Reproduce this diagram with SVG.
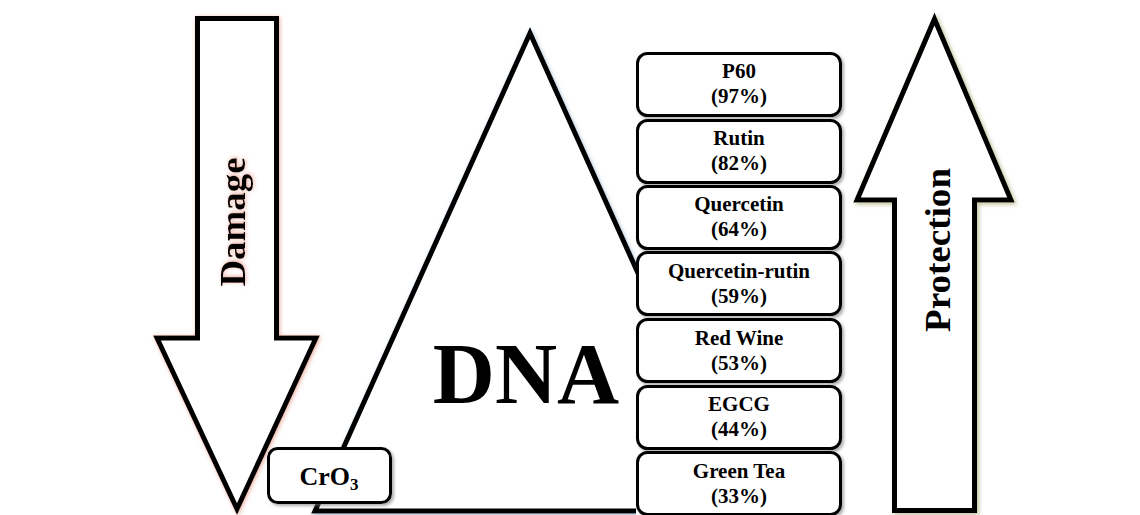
<svg xmlns="http://www.w3.org/2000/svg" width="1140" height="515" viewBox="0 0 1140 515">
  <defs>
    <filter id="glowRed" x="-20%" y="-20%" width="140%" height="140%">
      <feDropShadow dx="1" dy="1" stdDeviation="2" flood-color="#e08a78" flood-opacity="0.7"/>
    </filter>
    <filter id="glowGreen" x="-20%" y="-20%" width="140%" height="140%">
      <feDropShadow dx="2" dy="2" stdDeviation="2" flood-color="#9a9a60" flood-opacity="0.6"/>
    </filter>
    <filter id="glowBlue" x="-20%" y="-20%" width="140%" height="140%">
      <feDropShadow dx="1" dy="2" stdDeviation="2" flood-color="#6e8fb0" flood-opacity="0.6"/>
    </filter>
    <filter id="shadowGray" x="-20%" y="-20%" width="140%" height="140%">
      <feDropShadow dx="2" dy="2" stdDeviation="1.5" flood-color="#777" flood-opacity="0.6"/>
    </filter>
  </defs>
  <style>
    .arrow { fill: #fff; stroke: #000; stroke-width: 5; stroke-linejoin: miter; }
    .tri { fill: #fff; stroke: #000; stroke-width: 5; stroke-linejoin: miter; }
    .box { fill: #fff; stroke: #000; stroke-width: 3; }
    .lbl { font-family: "Liberation Serif", "Times New Roman", serif; font-weight: bold; fill: #000; }
    .boxtxt { font-size: 21px; text-anchor: middle; }
    .big { font-size: 36px; text-anchor: middle; }
  </style>
  <rect width="1140" height="515" fill="#fff"/>

  <g id="dna">
    <polygon class="tri" filter="url(#glowBlue)" points="530,33 745,511 315,511"/>
    <text class="lbl" x="526" y="403" font-size="86" text-anchor="middle">DNA</text>
  </g>

  <g id="damage">
    <polygon class="arrow" filter="url(#glowRed)" points="197.5,18.5 276.5,18.5 276.5,338 316,338 237,509 157,338 197.5,338"/>
    <text class="lbl big" filter="url(#glowRed)" transform="translate(245,222) rotate(-90)" x="0" y="0" textLength="129" lengthAdjust="spacingAndGlyphs">Damage</text>
  </g>

  <g id="protection">
    <polygon class="arrow" filter="url(#glowGreen)" points="934.5,19 1011,200 974.5,200 974.5,510.5 894.5,510.5 894.5,200 857,200"/>
    <text class="lbl big" transform="translate(950,250) rotate(-90)" x="0" y="0" textLength="164" lengthAdjust="spacingAndGlyphs">Protection</text>
  </g>

  <g id="cro3">
    <rect class="box" filter="url(#shadowGray)" x="268.5" y="448.5" width="122" height="54" rx="9"/>
    <text class="lbl" x="329" y="485" font-size="26" text-anchor="middle">CrO<tspan font-size="17" dy="5">3</tspan></text>
  </g>

  <rect x="636" y="52" width="206" height="463" fill="#fff"/>

  <g id="p60">
    <rect class="box" filter="url(#shadowGray)" x="637.5" y="53.5" width="203" height="62" rx="10"/>
    <text class="lbl boxtxt" x="739" y="78">P60</text>
    <text class="lbl boxtxt" x="739" y="103">(97%)</text>
  </g>
  <g id="rutin">
    <rect class="box" filter="url(#shadowGray)" x="637.5" y="120.5" width="203" height="62" rx="10"/>
    <text class="lbl boxtxt" x="739" y="145">Rutin</text>
    <text class="lbl boxtxt" x="739" y="170">(82%)</text>
  </g>
  <g id="quercetin">
    <rect class="box" filter="url(#shadowGray)" x="637.5" y="186.5" width="203" height="62" rx="10"/>
    <text class="lbl boxtxt" x="739" y="211">Quercetin</text>
    <text class="lbl boxtxt" x="739" y="236">(64%)</text>
  </g>
  <g id="quercetin-rutin">
    <rect class="box" filter="url(#shadowGray)" x="637.5" y="252.5" width="203" height="62" rx="10"/>
    <text class="lbl boxtxt" x="739" y="278">Quercetin-rutin</text>
    <text class="lbl boxtxt" x="739" y="303">(59%)</text>
  </g>
  <g id="red-wine">
    <rect class="box" filter="url(#shadowGray)" x="637.5" y="319.5" width="203" height="62" rx="10"/>
    <text class="lbl boxtxt" x="739" y="345">Red Wine</text>
    <text class="lbl boxtxt" x="739" y="370">(53%)</text>
  </g>
  <g id="egcg">
    <rect class="box" filter="url(#shadowGray)" x="637.5" y="386.5" width="203" height="62" rx="10"/>
    <text class="lbl boxtxt" x="739" y="411">EGCG</text>
    <text class="lbl boxtxt" x="739" y="436">(44%)</text>
  </g>
  <g id="green-tea">
    <rect class="box" filter="url(#shadowGray)" x="637.5" y="452.5" width="203" height="62" rx="10"/>
    <text class="lbl boxtxt" x="739" y="478">Green Tea</text>
    <text class="lbl boxtxt" x="739" y="503">(33%)</text>
  </g>

  <g id="connectors"></g>
</svg>
